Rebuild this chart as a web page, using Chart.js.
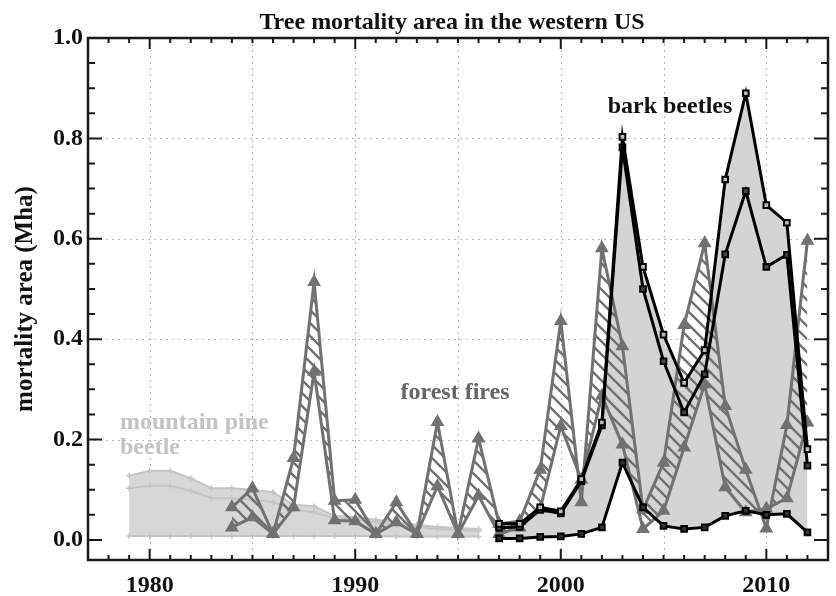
<!DOCTYPE html>
<html>
<head>
<meta charset="utf-8">
<script src="https://cdn.jsdelivr.net/npm/chart.js@4.4.0/dist/chart.umd.min.js"></script>
<style>
  body { margin: 0; background: #fff; }
  #wrap { width: 836px; height: 596px; }
</style>
</head>
<body>
<div id="wrap"><canvas id="mortalityChart" width="836" height="596"></canvas></div>
<script>
// mountain pine beetle (1979-1996)
const mpbYears = [1979, 1980, 1981, 1982, 1983, 1984, 1985, 1986, 1987, 1988, 1989, 1990, 1991, 1992, 1993, 1994, 1995, 1996];
const mpbHigh = [0.128, 0.138, 0.138, 0.123, 0.103, 0.103, 0.100, 0.095, 0.070, 0.067, 0.048, 0.045, 0.040, 0.035, 0.030, 0.026, 0.024, 0.022];
const mpbMid  = [0.103, 0.108, 0.108, 0.098, 0.083, 0.083, 0.080, 0.075, 0.060, 0.055, 0.043, 0.040, 0.035, 0.030, 0.026, 0.022, 0.020, 0.018];
const mpbLow  = [0.008, 0.008, 0.008, 0.008, 0.008, 0.008, 0.008, 0.008, 0.008, 0.008, 0.008, 0.008, 0.008, 0.007, 0.007, 0.007, 0.007, 0.007];

// forest fires (1984-2012)
const fireYears = [1984, 1985, 1986, 1987, 1988, 1989, 1990, 1991, 1992, 1993, 1994, 1995, 1996, 1997, 1998, 1999,
                   2000, 2001, 2002, 2003, 2004, 2005, 2006, 2007, 2008, 2009, 2010, 2011, 2012];
const fireHigh = [0.065, 0.103, 0.012, 0.163, 0.514, 0.078, 0.080, 0.012, 0.075, 0.012, 0.235, 0.012, 0.202, 0.032, 0.037, 0.140,
                  0.436, 0.075, 0.581, 0.386, 0.060, 0.154, 0.428, 0.591, 0.267, 0.140, 0.023, 0.229, 0.596];
const fireLow  = [0.025, 0.045, 0.012, 0.065, 0.335, 0.039, 0.037, 0.012, 0.035, 0.012, 0.107, 0.012, 0.088, 0.012, 0.025, 0.062,
                  0.227, 0.120, 0.287, 0.190, 0.022, 0.058, 0.184, 0.310, 0.105, 0.055, 0.062, 0.083, 0.234];

// bark beetles (1997-2012)
const barkYears = [1997, 1998, 1999, 2000, 2001, 2002, 2003, 2004, 2005, 2006, 2007, 2008, 2009, 2010, 2011, 2012];
const barkHigh = [0.032, 0.032, 0.065, 0.057, 0.121, 0.234, 0.803, 0.544, 0.409, 0.313, 0.378, 0.718, 0.890, 0.667, 0.632, 0.181];
const barkMid  = [0.024, 0.026, 0.060, 0.053, 0.117, 0.228, 0.782, 0.500, 0.356, 0.254, 0.330, 0.569, 0.695, 0.544, 0.568, 0.148];
const barkLow  = [0.003, 0.003, 0.006, 0.007, 0.012, 0.025, 0.154, 0.065, 0.028, 0.022, 0.025, 0.048, 0.058, 0.050, 0.052, 0.015];

const xTickYears = [1980, 1990, 2000, 2010];
const yTickValues = [0.0, 0.2, 0.4, 0.6, 0.8, 1.0];

function toPoints(years, vals) {
    return years.map((yr, i) => ({ x: yr, y: vals[i] }));
}

const serif = 'Liberation Serif, Times New Roman, serif';
const ctx = document.getElementById('mortalityChart').getContext('2d');

function makeHatch() {
    const s = 13;
    const c = document.createElement('canvas');
    c.width = s; c.height = s;
    const g = c.getContext('2d');
    g.strokeStyle = '#717171';
    g.lineWidth = 2.4;
    g.beginPath();
    [-s, 0, s].forEach(k => {
        g.moveTo(k - 2, -2);
        g.lineTo(k + s + 2, s + 2);
    });
    g.stroke();
    return ctx.createPattern(c, 'repeat');
}

// frame, dotted grid, inward ticks, title and the text labels inside the plot
const framePlugin = {
    id: 'frame',
    beforeDatasetsDraw(chart) {
        const { ctx, chartArea: a, scales: { x, y } } = chart;
        ctx.save();
        ctx.strokeStyle = '#b8b8b8';
        ctx.lineWidth = 1;
        ctx.setLineDash([2, 4]);
        ctx.beginPath();
        for (let yr = 1980; yr <= 2010; yr += 5) {
            const px = Math.round(x.getPixelForValue(yr)) + 0.5;
            ctx.moveTo(px, a.top); ctx.lineTo(px, a.bottom);
        }
        for (let v = 0.2; v < 0.9; v += 0.2) {
            const py = Math.round(y.getPixelForValue(v)) + 0.5;
            ctx.moveTo(a.left, py); ctx.lineTo(a.right, py);
        }
        ctx.stroke();
        ctx.restore();
    },
    afterDatasetsDraw(chart) {
        const { ctx, chartArea: a, scales: { x, y } } = chart;
        ctx.save();
        ctx.strokeStyle = '#1a1a1a';
        ctx.lineWidth = 2;
        ctx.beginPath();
        for (let yr = 1978; yr <= 2012; yr++) {
            const px = x.getPixelForValue(yr);
            const len = yr % 10 === 0 ? 11 : 5;
            ctx.moveTo(px, a.bottom); ctx.lineTo(px, a.bottom - len);
            ctx.moveTo(px, a.top); ctx.lineTo(px, a.top + len);
        }
        for (let i = 0; i <= 20; i++) {
            const v = i * 0.05;
            const py = y.getPixelForValue(v);
            const len = i % 4 === 0 ? 14 : 7;
            ctx.moveTo(a.left, py); ctx.lineTo(a.left + len, py);
            ctx.moveTo(a.right, py); ctx.lineTo(a.right - len, py);
        }
        ctx.stroke();
        ctx.lineWidth = 2.5;
        ctx.strokeRect(a.left, a.top, a.right - a.left, a.bottom - a.top);
        ctx.restore();
    },
    afterDraw(chart) {
        const { ctx } = chart;
        ctx.save();
        ctx.font = 'bold 24px ' + serif;
        ctx.textBaseline = 'alphabetic';
        ctx.textAlign = 'center';
        ctx.fillStyle = '#111';
        ctx.fillText('Tree mortality area in the western US', 452, 29);
        ctx.fillText('bark beetles', 670, 113);
        ctx.fillStyle = '#666';
        ctx.fillText('forest fires', 455, 399);
        ctx.textAlign = 'left';
        ctx.fillStyle = '#c3c3c3';
        ctx.fillText('mountain pine', 120, 429);
        ctx.fillText('beetle', 120, 454);
        ctx.restore();
    }
};

const hatch = makeHatch();
const pineGray = '#c4c4c4';
const fireGray = '#717171';

new Chart(ctx, {
    type: 'line',
    data: {
        datasets: [
            { // 0
                data: toPoints(mpbYears, mpbLow), borderColor: pineGray, borderWidth: 2,
                pointStyle: 'cross', pointRadius: 3, pointBorderWidth: 1.5, pointBorderColor: pineGray,
                fill: false, order: 8
            },
            { // 1
                data: toPoints(mpbYears, mpbMid), borderColor: pineGray, borderWidth: 2,
                pointStyle: 'cross', pointRadius: 3, pointBorderWidth: 1.5, pointBorderColor: pineGray,
                fill: false, order: 8
            },
            { // 2
                data: toPoints(mpbYears, mpbHigh), borderColor: pineGray, borderWidth: 2,
                pointStyle: 'cross', pointRadius: 3, pointBorderWidth: 1.5, pointBorderColor: pineGray,
                fill: { target: 0 }, backgroundColor: '#d7d7d7', order: 9
            },
            { // 3 bark beetle shaded area only
                data: toPoints(barkYears, barkHigh), borderWidth: 0, borderColor: 'rgba(0,0,0,0)',
                pointRadius: 0, fill: { target: 6 }, backgroundColor: '#d4d4d4', order: 7
            },
            { // 4
                data: toPoints(fireYears, fireLow), borderColor: fireGray, borderWidth: 3,
                pointStyle: 'triangle', pointRadius: 5, pointBackgroundColor: fireGray, pointBorderColor: fireGray,
                fill: false, order: 5
            },
            { // 5
                data: toPoints(fireYears, fireHigh), borderColor: fireGray, borderWidth: 3,
                pointStyle: 'triangle', pointRadius: 5, pointBackgroundColor: fireGray, pointBorderColor: fireGray,
                fill: { target: 4 }, backgroundColor: hatch, order: 6
            },
            { // 6
                data: toPoints(barkYears, barkLow), borderColor: '#000', borderWidth: 3,
                pointStyle: 'rect', pointRadius: 4, pointBorderWidth: 2, pointBackgroundColor: '#333', pointBorderColor: '#000',
                fill: false, order: 3
            },
            { // 7
                data: toPoints(barkYears, barkMid), borderColor: '#000', borderWidth: 3,
                pointStyle: 'rect', pointRadius: 4, pointBorderWidth: 2, pointBackgroundColor: '#444', pointBorderColor: '#000',
                fill: false, order: 2
            },
            { // 8
                data: toPoints(barkYears, barkHigh), borderColor: '#000', borderWidth: 3,
                pointStyle: 'rect', pointRadius: 4, pointBorderWidth: 2, pointBackgroundColor: '#bbb', pointBorderColor: '#000',
                fill: false, order: 1
            }
        ]
    },
    options: {
        responsive: false,
        animation: false,
        layout: { padding: { left: 0, right: 1, top: 38, bottom: 0 } },
        plugins: {
            legend: { display: false },
            tooltip: { enabled: false },
            title: { display: false }
        },
        elements: { line: { tension: 0 } },
        scales: {
            x: {
                type: 'linear',
                min: 1977,
                max: 2013,
                grid: { display: false, drawTicks: false },
                border: { display: false },
                afterBuildTicks: s => { s.ticks = xTickYears.map(v => ({ value: v })); },
                afterFit: s => { s.height = 36; },
                ticks: {
                    color: '#111',
                    font: { family: serif, size: 24, weight: 'bold' },
                    padding: 11,
                    maxRotation: 0,
                    autoSkip: false,
                    callback: v => String(v)
                }
            },
            y: {
                min: -0.04,
                max: 1.0,
                grid: { display: false, drawTicks: false },
                border: { display: false },
                afterBuildTicks: s => { s.ticks = yTickValues.map(v => ({ value: v })); },
                afterFit: s => { s.width = 88; },
                ticks: {
                    color: '#111',
                    font: { family: serif, size: 24, weight: 'bold' },
                    padding: 5,
                    callback: v => v.toFixed(1)
                },
                title: {
                    display: true,
                    text: 'mortality area (Mha)',
                    color: '#111',
                    font: { family: serif, size: 25, weight: 'bold' },
                    padding: { top: 11, bottom: 0 }
                }
            }
        }
    },
    plugins: [framePlugin]
});
</script>
</body>
</html>
